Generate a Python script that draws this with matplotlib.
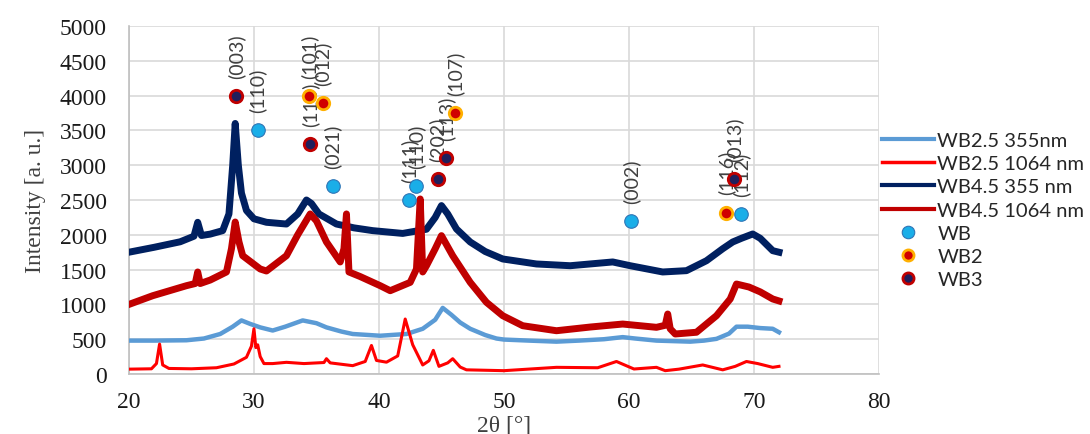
import matplotlib
matplotlib.use("Agg")
import matplotlib.pyplot as plt
from matplotlib.lines import Line2D

# XRD patterns, 2theta [deg] vs intensity [a.u.]
wb25_355_x = [20, 22, 24.6, 26, 27.3, 28.3, 29.0, 29.7, 30.5, 31.5, 32.5, 33.9, 35, 35.8, 37,
              37.9, 40.1, 42.2, 43.5, 44.5, 45.1, 45.8, 46.5, 47.3, 48.5, 49.4, 50, 52, 54.2,
              56, 58, 59.5, 60.5, 62.2, 64.9, 66, 67.0, 68, 68.6, 69.5, 70.5, 71.5, 72]
wb25_355_y = [480, 480, 485, 510, 575, 680, 770, 720, 670, 625, 680, 770, 730, 670, 610,
              575, 550, 575, 650, 780, 950, 850, 740, 650, 560, 510, 495, 480, 465,
              480, 500, 530, 510, 480, 465, 480, 505, 580, 680, 680, 660, 650, 600]

wb25_1064_x = [20, 21.8, 22.2, 22.45, 22.7, 23.2, 25, 27, 28.4, 29.4, 29.8, 30.0, 30.15, 30.3,
               30.5, 30.8, 31.5, 32.6, 34, 35.6, 35.8, 36.1, 37.9, 38.9, 39.4, 39.8, 40.6,
               41.5, 42.1, 42.7, 43.5, 44.0, 44.35, 44.8, 45.5, 45.9, 46.5, 47, 50, 54.2,
               57.5, 59.0, 60.4, 62.2, 62.9, 64, 65.9, 67.5, 68.5, 69.4, 70.3, 71.5, 72]
wb25_1064_y = [70, 75, 150, 430, 130, 80, 75, 90, 144, 240, 400, 650, 380, 420,
               250, 150, 150, 168, 150, 165, 220, 160, 120, 180, 410, 195, 170,
               260, 790, 420, 130, 190, 340, 110, 160, 220, 100, 60, 48, 96,
               90, 180, 72, 96, 48, 70, 130, 60, 110, 180, 150, 96, 110]

wb45_355_x = [20, 22, 24.1, 25.2, 25.5, 25.8, 26.5, 27.5, 28.0, 28.3, 28.5, 28.75, 29.0, 29.4,
              30, 31, 32.6, 33.5, 34.2, 34.6, 35.2, 36.6, 38, 39.5, 41.9, 43.8, 44.5, 45.0,
              45.5, 46.2, 47.3, 48.5, 49.9, 52.6, 55.3, 58.7, 60.1, 62.7, 64.6, 66.2, 67.5,
              68.3, 69.0, 69.9, 70.5, 71.5, 72]
wb45_355_y = [1750, 1820, 1900, 1980, 2180, 1990, 2010, 2060, 2300, 3000, 3600, 3000, 2600, 2350,
              2230, 2180, 2155, 2300, 2500, 2450, 2300, 2155, 2100, 2060, 2020, 2080, 2250, 2420,
              2300, 2084, 1897, 1760, 1653, 1581, 1556, 1610, 1556, 1466, 1485, 1628, 1800,
              1897, 1950, 2012, 1950, 1772, 1750]

wb45_1064_x = [20, 21.9, 24.6, 25.3, 25.5, 25.7, 26.5, 27.8, 28.2, 28.5, 28.8, 29.1, 30.5, 31.0,
               32.6, 33.5, 34.5, 35.0, 35.8, 36.9, 37.2, 37.4, 37.6, 38.5, 40.1, 40.9, 42.5,
               43.0, 43.3, 43.5, 43.8, 44.5, 45.0, 45.9, 47.3, 48.6, 49.9, 51.5, 54.2, 56.9,
               59.5, 62.2, 62.9, 63.1, 63.3, 63.7, 65.4, 67.0, 68.1, 68.6, 69.6, 70.5, 71.5, 72]
wb45_1064_y = [1000, 1125, 1269, 1300, 1466, 1300, 1350, 1466, 1800, 2184, 1900, 1700, 1509, 1480,
               1700, 2000, 2300, 2200, 1897, 1610, 1800, 2300, 1466, 1400, 1269, 1197, 1317,
               1509, 2515, 1466, 1556, 1800, 1988, 1700, 1317, 1030, 838, 694, 622, 675,
               718, 671, 700, 862, 650, 575, 600, 838, 1078, 1293, 1250, 1180, 1078, 1050]

# reference reflections
wb_pos = [30.3, 36.3, 42.4, 43.0, 60.2, 69.0]
wb_int = [3500, 2700, 2500, 2700, 2200, 2300]
wb_hkl = ["(110)", "(021)", "(111)", "(110)", "(002)", "(112)"]

wb2_pos = [34.4, 35.5, 46.1, 67.8]
wb2_int = [4000, 3900, 3750, 2320]
wb2_hkl = ["(101)", "(012)", "(107)", "(116)"]

wb3_pos = [28.6, 34.5, 44.7, 45.4, 68.4]
wb3_int = [4000, 3300, 2800, 3100, 2800]
wb3_hkl = ["(003)", "(110)", "(202)", "(113)", "(013)"]

serif = "Liberation Serif"
sans = "Lato"

fig = plt.figure(figsize=(10.9, 4.35), dpi=100)
ax = fig.add_axes([0.1183, 0.1379, 0.6881, 0.8])

ax.plot(wb25_355_x, wb25_355_y, color="#5B9BD5", lw=3.2, label="WB2.5 355nm", zorder=3)
ax.plot(wb25_1064_x, wb25_1064_y, color="#FF0000", lw=2.2, label="WB2.5 1064 nm", zorder=3)
ax.plot(wb45_355_x, wb45_355_y, color="#002060", lw=5.0, label="WB4.5 355 nm", zorder=3)
ax.plot(wb45_1064_x, wb45_1064_y, color="#C00000", lw=5.0, label="WB4.5 1064 nm", zorder=3)

ax.scatter(wb_pos, wb_int, s=95, c="#1AAEE8", edgecolors="#2E75B6", linewidths=0.8, zorder=6)
ax.scatter(wb2_pos, wb2_int, s=80, c="#D00000", edgecolors="#FFB000", linewidths=2.0, zorder=6)
ax.scatter(wb3_pos, wb3_int, s=80, c="#1F1F5C", edgecolors="#C00000", linewidths=2.0, zorder=6)

for pos, inten, hkl in zip(wb_pos + wb2_pos + wb3_pos,
                           wb_int + wb2_int + wb3_int,
                           wb_hkl + wb2_hkl + wb3_hkl):
    ax.annotate(hkl, (pos, inten), xytext=(0, 13), textcoords="offset points",
                rotation=90, ha="center", va="bottom", fontsize=14,
                family=sans, color="#404040", zorder=5)

ax.set_xlim(20, 80)
ax.set_ylim(0, 5000)
ax.set_xticks(range(20, 81, 10))
ax.set_yticks(range(0, 5001, 500))
ax.grid(True, color="#D9D9D9", lw=1.2)
ax.set_axisbelow(True)
for side in ["top", "right"]:
    ax.spines[side].set_visible(False)
for side in ["left", "bottom"]:
    ax.spines[side].set_color("#BFBFBF")
    ax.spines[side].set_linewidth(1.2)
ax.tick_params(length=0, labelsize=17, colors="#1A1A1A")
ax.tick_params(axis="y", pad=16)
ax.tick_params(axis="x", pad=12)
for lab in ax.get_xticklabels() + ax.get_yticklabels():
    lab.set_family(serif)

ax.set_ylabel("Intensity [a. u.]", family=serif, fontsize=17, color="#404040", labelpad=10)
ax.set_xlabel("2θ [°]", family=serif, fontsize=17, color="#404040", labelpad=2)

handles = [
    Line2D([], [], color="#5B9BD5", lw=3.0),
    Line2D([], [], color="#FF0000", lw=2.5),
    Line2D([], [], color="#002060", lw=3.0),
    Line2D([], [], color="#C00000", lw=3.0),
    Line2D([], [], ls="none", marker="o", ms=9, mfc="#1AAEE8", mec="#2E75B6", mew=0.8),
    Line2D([], [], ls="none", marker="o", ms=8, mfc="#D00000", mec="#FFB000", mew=2.0),
    Line2D([], [], ls="none", marker="o", ms=8, mfc="#1F1F5C", mec="#C00000", mew=2.0),
]
labels = ["WB2.5 355nm", "WB2.5 1064 nm", "WB4.5 355 nm", "WB4.5 1064 nm", "WB", "WB2", "WB3"]
fig.legend(handles, labels, loc="upper left", bbox_to_anchor=(874 / 1090, 1 - 125 / 435),
           frameon=False, prop={"family": sans, "size": 14.5}, handlelength=2.6,
           handletextpad=0.15, labelspacing=0.3, borderaxespad=0, labelcolor="#262626")

fig.savefig("out.png", dpi=100)
